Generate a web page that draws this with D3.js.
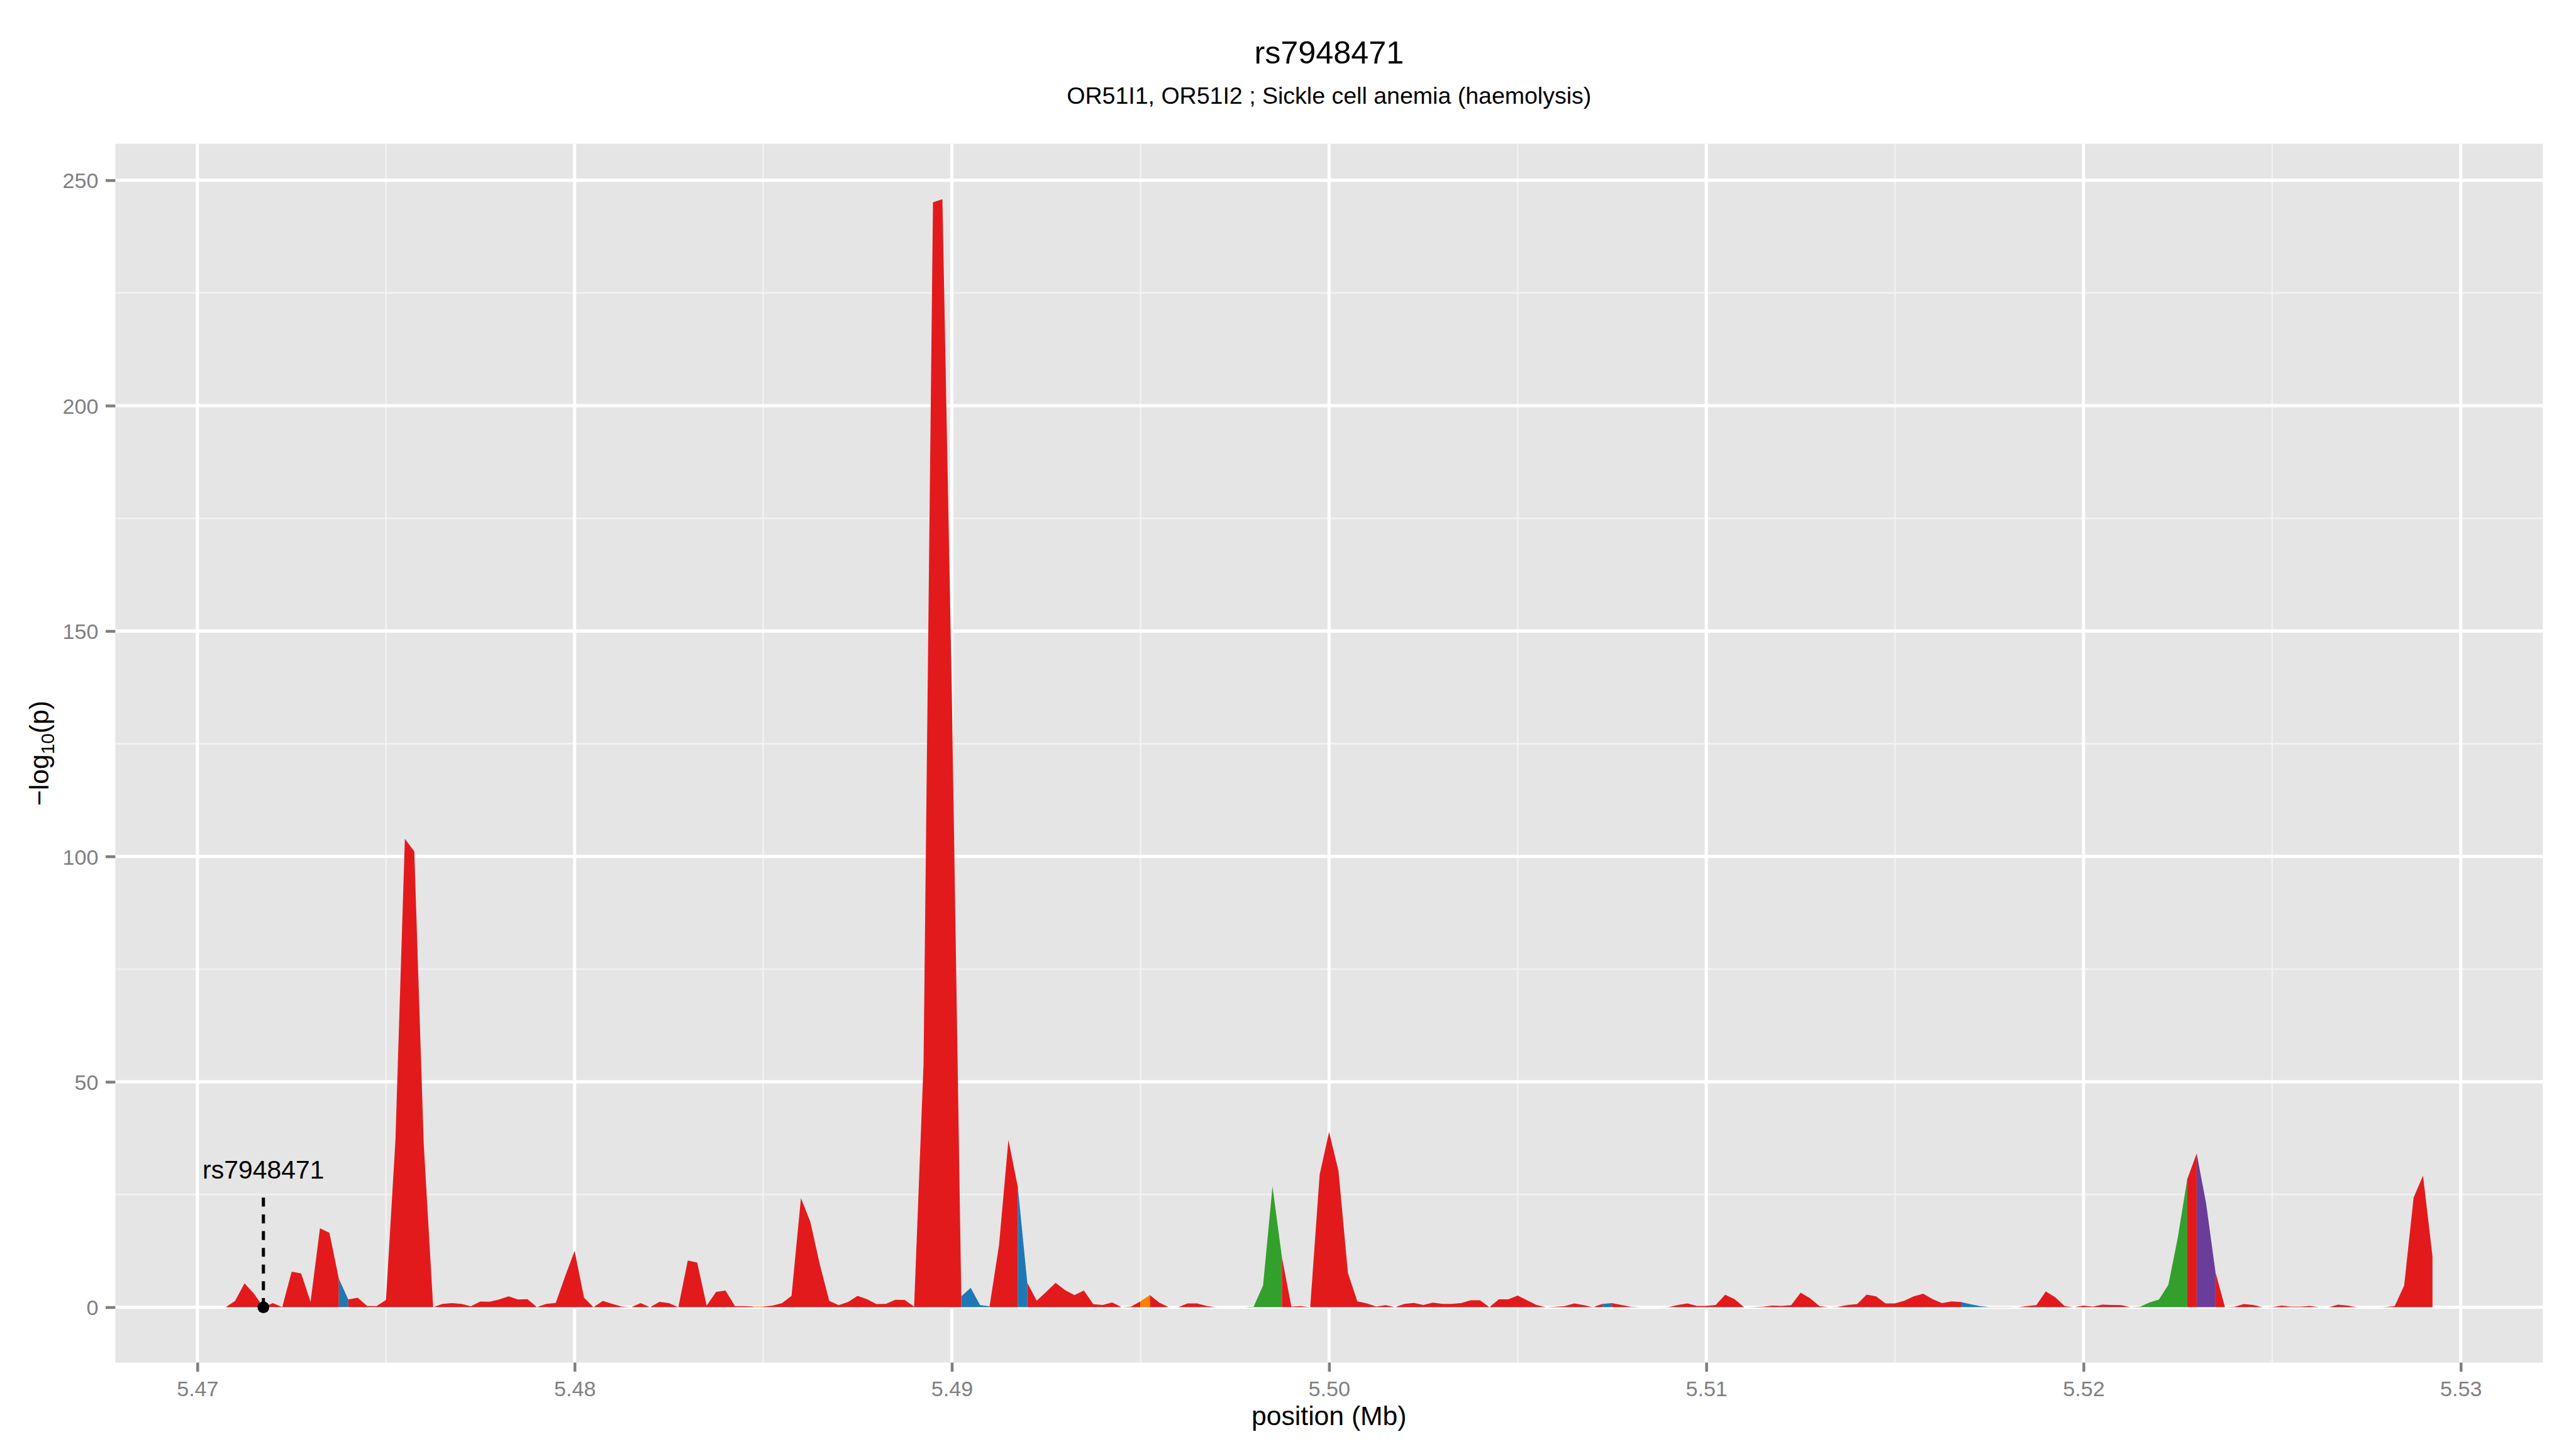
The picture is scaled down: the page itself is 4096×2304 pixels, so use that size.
<!DOCTYPE html>
<html>
<head>
<meta charset="utf-8">
<script src="https://cdn.jsdelivr.net/npm/d3@7"></script>
<style>
  html, body { margin: 0; padding: 0; background: #fff; overflow: hidden; }
  svg { display: block; }
  text { font-family: "Liberation Sans", Arial, Helvetica, sans-serif; }
</style>
</head>
<body>
<svg id="chart" width="4096" height="2304"></svg>
<script>
// ---- data ----
const chartTitle = "rs7948471";
const chartSubtitle = "OR51I1, OR51I2 ; Sickle cell anemia (haemolysis)";
const xTitle = "position (Mb)";

const xTicks = [5.47, 5.48, 5.49, 5.50, 5.51, 5.52, 5.53];
const xMinorTicks = [5.475, 5.485, 5.495, 5.505, 5.515, 5.525];
const yTicks = [0, 50, 100, 150, 200, 250];
const yMinorTicks = [25, 75, 125, 175, 225];

// bin positions (Mb)
const positionMb = [
  5.47075,5.47100,5.47125,5.47150,5.47175,5.47200,5.47225,5.47250,5.47275,5.47300,
  5.47325,5.47350,5.47375,5.47400,5.47425,5.47450,5.47475,5.47500,5.47525,5.47550,
  5.47575,5.47600,5.47625,5.47650,5.47675,5.47700,5.47725,5.47750,5.47775,5.47800,
  5.47825,5.47850,5.47875,5.47900,5.47925,5.47950,5.47975,5.48000,5.48025,5.48050,
  5.48075,5.48100,5.48125,5.48150,5.48175,5.48200,5.48225,5.48250,5.48275,5.48300,
  5.48325,5.48350,5.48375,5.48400,5.48425,5.48450,5.48475,5.48500,5.48525,5.48550,
  5.48575,5.48600,5.48625,5.48650,5.48675,5.48700,5.48725,5.48750,5.48775,5.48800,
  5.48825,5.48850,5.48875,5.48900,5.48925,5.48950,5.48975,5.49000,5.49025,5.49050,
  5.49075,5.49100,5.49125,5.49150,5.49175,5.49200,5.49225,5.49250,5.49275,5.49300,
  5.49325,5.49350,5.49375,5.49400,5.49425,5.49450,5.49475,5.49500,5.49525,5.49550,
  5.49575,5.49600,5.49625,5.49650,5.49675,5.49700,5.49725,5.49750,5.49775,5.49800,
  5.49825,5.49850,5.49875,5.49900,5.49925,5.49950,5.49975,5.50000,5.50025,5.50050,
  5.50075,5.50100,5.50125,5.50150,5.50175,5.50200,5.50225,5.50250,5.50275,5.50300,
  5.50325,5.50350,5.50375,5.50400,5.50425,5.50450,5.50475,5.50500,5.50525,5.50550,
  5.50575,5.50600,5.50625,5.50650,5.50675,5.50700,5.50725,5.50750,5.50775,5.50800,
  5.50825,5.50850,5.50875,5.50900,5.50925,5.50950,5.50975,5.51000,5.51025,5.51050,
  5.51075,5.51100,5.51125,5.51150,5.51175,5.51200,5.51225,5.51250,5.51275,5.51300,
  5.51325,5.51350,5.51375,5.51400,5.51425,5.51450,5.51475,5.51500,5.51525,5.51550,
  5.51575,5.51600,5.51625,5.51650,5.51675,5.51700,5.51725,5.51750,5.51775,5.51800,
  5.51825,5.51850,5.51875,5.51900,5.51925,5.51950,5.51975,5.52000,5.52025,5.52050,
  5.52075,5.52100,5.52125,5.52150,5.52175,5.52200,5.52225,5.52250,5.52275,5.52300,
  5.52325,5.52350,5.52375,5.52400,5.52425,5.52450,5.52475,5.52500,5.52525,5.52550,
  5.52575,5.52600,5.52625,5.52650,5.52675,5.52700,5.52725,5.52750,5.52775,5.52800,
  5.52825,5.52850,5.52875,5.52900,5.52925
];

// -log10(p) per bin
const logP = [
  0, 1.4, 5.3, 3.0, 0, 0.9, 0.05, 7.9, 7.5, 1.2,
  17.5, 16.5, 6.3, 1.7, 2.1, 0.3, 0.25, 1.6, 37, 103.9,
  101.1, 36.3, 0, 0.75, 0.9, 0.75, 0.2, 1.25, 1.23, 1.7,
  2.4, 1.7, 1.8, 0.05, 0.75, 0.95, 6.9, 12.5, 2.1, 0,
  1.4, 0.75, 0.15, 0, 0.9, 0, 1.2, 0.9, 0, 10.35,
  9.9, 0.35, 3.4, 3.7, 0.25, 0.25, 0.15, 0.15, 0.35, 0.9,
  2.5, 24.2, 18.9, 9.5, 1.4, 0.45, 1.15, 2.5, 1.8, 0.7,
  0.75, 1.65, 1.6, 0.15, 54, 245.1, 245.8, 136, 2.4, 4.3,
  0.45, 0.2, 13.7, 37.1, 26.6, 5.4, 1.45, 3.4, 5.4, 3.8,
  2.7, 3.7, 0.65, 0.5, 1.05, 0, 0.15, 1.3, 2.7, 1.0,
  0, 0, 0.85, 0.85, 0.3, 0, 0, 0, 0, 0.1,
  4.8, 26.8, 11.1, 0.15, 0.25, 0, 29.4, 38.9, 30.2, 7.6,
  1.3, 0.85, 0.15, 0.45, 0, 0.75, 0.95, 0.5, 1.0, 0.75,
  0.75, 0.9, 1.55, 1.55, 0, 1.75, 1.75, 2.6, 1.55, 0.5,
  0, 0.1, 0.25, 0.85, 0.45, 0, 0.75, 0.9, 0.5, 0.1,
  0, 0, 0, 0.05, 0.5, 0.85, 0.3, 0.3, 0.5, 2.75,
  1.8, 0, 0.05, 0.1, 0.35, 0.3, 0.45, 3.2, 2.0, 0.25,
  0, 0.1, 0.5, 0.7, 2.8, 2.4, 0.85, 0.85, 1.45, 2.4,
  3.0, 1.8, 0.9, 1.3, 1.15, 0.65, 0.25, 0.05, 0.05, 0.05,
  0, 0.25, 0.45, 3.5, 2.2, 0.25, 0, 0.35, 0.15, 0.55,
  0.5, 0.45, 0, 0.1, 1.05, 1.7, 5.0, 15.5, 28.4, 34.1,
  23.0, 7.65, 0, 0.1, 0.7, 0.5, 0, 0.05, 0.35, 0.15,
  0.15, 0.3, 0, 0, 0.55, 0.35, 0, 0, 0, 0.05,
  0.25, 4.8, 24.3, 29.2, 11.3
];

// bins (segment starting at that bin) that are not red
const blueBins = [12, 78, 79, 80, 84, 146, 184, 185, 186, 228];
const orangeBins = [56, 97, 170, 222];
const greenBins = [108, 109, 110, 111, 203, 204, 205, 206, 207];
const purpleBins = [105, 209, 210];

const fillColors = { red: "#E31A1C", blue: "#1F78B4", green: "#33A02C", orange: "#FF7F00", purple: "#6A3D9A" };

const leadSnp = { name: "rs7948471", pos: 5.47175, labelAt: 28.6, lineTop: 24.3 };

// ---- layout (reference px * 0.853) ----
const S = 0.853;
const W = 4096, H = 2304;
const panel = { left: 215 * S, right: 4740 * S, top: 268 * S, bottom: 2540 * S };
const gridMajor = 5.1, gridMinor = 2.5;

const svg = d3.select("#chart");
svg.append("rect").attr("width", W).attr("height", H).attr("fill", "#fff");

// ggplot-style 5% expansion
const xExt = d3.extent(positionMb);
const xPad = (xExt[1] - xExt[0]) * 0.05;
const x = d3.scaleLinear().domain([xExt[0] - xPad, xExt[1] + xPad]).range([panel.left, panel.right]);
const yMax = d3.max(logP);
const yPad = yMax * 0.05;
const y = d3.scaleLinear().domain([-yPad, yMax + yPad]).range([panel.bottom, panel.top]);

// Panel background.
svg.append("rect")
  .attr("x", panel.left).attr("y", panel.top)
  .attr("width", panel.right - panel.left).attr("height", panel.bottom - panel.top)
  .attr("fill", "#E5E5E5");

// Gridlines, minor then major.
const grid = svg.append("g");
grid.selectAll("line.xminor").data(xMinorTicks).join("line").attr("class", "xminor")
  .attr("x1", d => x(d)).attr("x2", d => x(d)).attr("y1", panel.top).attr("y2", panel.bottom)
  .attr("stroke", "#F2F2F2").attr("stroke-width", gridMinor);
grid.selectAll("line.yminor").data(yMinorTicks).join("line").attr("class", "yminor")
  .attr("y1", d => y(d)).attr("y2", d => y(d)).attr("x1", panel.left).attr("x2", panel.right)
  .attr("stroke", "#F2F2F2").attr("stroke-width", gridMinor);
grid.selectAll("line.xmajor").data(xTicks).join("line").attr("class", "xmajor")
  .attr("x1", d => x(d)).attr("x2", d => x(d)).attr("y1", panel.top).attr("y2", panel.bottom)
  .attr("stroke", "#FFFFFF").attr("stroke-width", gridMajor);
grid.selectAll("line.ymajor").data(yTicks).join("line").attr("class", "ymajor")
  .attr("y1", d => y(d)).attr("y2", d => y(d)).attr("x1", panel.left).attr("x2", panel.right)
  .attr("stroke", "#FFFFFF").attr("stroke-width", gridMajor);

// Colour class of each segment (bin i -> bin i+1).
const binClass = positionMb.map((_, i) =>
  blueBins.includes(i) ? "blue" :
  orangeBins.includes(i) ? "orange" :
  greenBins.includes(i) ? "green" :
  purpleBins.includes(i) ? "purple" : "red");

// Group consecutive segments of one colour into runs.
const runs = [];
let start = 0;
for (let i = 1; i < positionMb.length - 1; i++) {
  if (binClass[i] !== binClass[start]) {
    runs.push({ cls: binClass[start], idx: d3.range(start, i + 1) });
    start = i;
  }
}
runs.push({ cls: binClass[start], idx: d3.range(start, positionMb.length) });

const area = d3.area()
  .x(i => x(positionMb[i]))
  .y0(y(0))
  .y1(i => y(logP[i]));

svg.append("g").selectAll("path").data(runs).join("path")
  .attr("d", d => area(d.idx))
  .attr("fill", d => fillColors[d.cls]);

// Axes.
const tickColor = "#7F7F7F";
const tickFont = 40 * S;

const xAxis = svg.append("g")
  .attr("transform", `translate(0, ${panel.bottom})`)
  .call(d3.axisBottom(x).tickValues(xTicks).tickFormat(d3.format(".2f")).tickSize(17 * S).tickPadding(14.2));
const yAxis = svg.append("g")
  .attr("transform", `translate(${panel.left}, 0)`)
  .call(d3.axisLeft(y).tickValues(yTicks).tickFormat(d3.format("d")).tickSize(18 * S).tickPadding(13.7 * S));

[xAxis, yAxis].forEach(a => {
  a.select(".domain").remove();
  a.selectAll(".tick line").attr("stroke", tickColor).attr("stroke-width", 4.5);
  a.selectAll(".tick text").attr("fill", tickColor).style("font-size", tickFont + "px")
    .style("font-family", "'Liberation Sans', Arial, sans-serif");
});
yAxis.selectAll(".tick text").attr("dy", "0.36em");

// Lead SNP annotation.
const ann = svg.append("g");
ann.append("line")
  .attr("x1", x(leadSnp.pos)).attr("x2", x(leadSnp.pos))
  .attr("y1", y(leadSnp.lineTop)).attr("y2", y(0))
  .attr("stroke", "#000").attr("stroke-width", 5)
  .attr("stroke-dasharray", "14.2,12.4");
ann.append("circle")
  .attr("cx", x(leadSnp.pos)).attr("cy", y(0)).attr("r", 9.4).attr("fill", "#000");
ann.append("text")
  .attr("x", x(leadSnp.pos)).attr("y", y(leadSnp.labelAt))
  .attr("text-anchor", "middle").attr("fill", "#000")
  .style("font-size", (48 * S) + "px")
  .text(leadSnp.name);

// Titles.
const cx = (panel.left + panel.right) / 2;
svg.append("text").attr("x", cx).attr("y", 118 * S).attr("text-anchor", "middle")
  .style("font-size", (59 * S) + "px").attr("fill", "#000").text(chartTitle);
svg.append("text").attr("x", cx).attr("y", 193 * S).attr("text-anchor", "middle")
  .style("font-size", (44 * S) + "px").attr("fill", "#000").text(chartSubtitle);

svg.append("text").attr("x", cx).attr("y", 2657 * S).attr("text-anchor", "middle")
  .style("font-size", (50 * S) + "px").attr("fill", "#000").text(xTitle);

const yTitle = svg.append("text")
  .attr("transform", `translate(${90 * S}, ${(panel.top + panel.bottom) / 2}) rotate(-90)`)
  .attr("text-anchor", "middle")
  .style("font-size", (50 * S) + "px").attr("fill", "#000");
yTitle.append("tspan").text("\u2212log");
yTitle.append("tspan").attr("dy", 9).style("font-size", (35 * S) + "px").text("10");
yTitle.append("tspan").attr("dy", -9).text("(p)");
</script>
</body>
</html>
